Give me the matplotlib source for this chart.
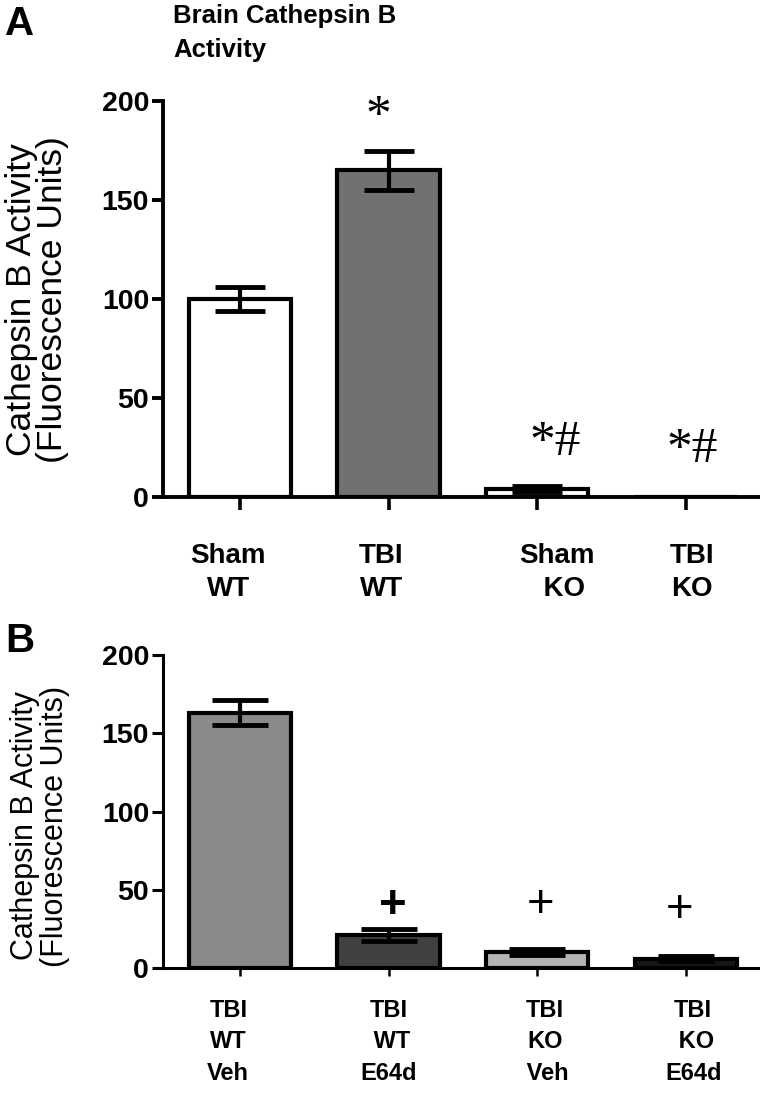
import matplotlib
matplotlib.use("Agg")
import matplotlib.pyplot as plt
import matplotlib.transforms as mtransforms

plt.rcParams["font.family"] = ["Liberation Sans", "DejaVu Sans"]

# panel A: brain cathepsin B activity
groups_a = ["Sham\nWT", "TBI\nWT", "Sham\n  KO", "TBI\nKO"]
values_a = [100, 165, 4, 0]
errors_a = [6, 10, 1.5, 0]
colors_a = ["white", "#717171", "white", "white"]
marks_a = ["", "*", "*#", "*#"]
mark_y_a = [0, 186, 21, 17.5]

# panel B: E64d treatment
groups_b = ["TBI\nWT\nVeh", "TBI\n WT\nE64d", "TBI\nKO\n Veh", "TBI\n KO\nE64d"]
values_b = [163, 21, 10, 6]
errors_b = [8, 4, 2, 1.5]
colors_b = ["#8a8a8a", "#404040", "#b4b4b4", "#161616"]
marks_b = ["", "+", "+", "+"]
mark_y_b = [0, 32, 32.5, 29.5]

yticks = [0, 50, 100, 150, 200]

W, H = 760, 1094
fig = plt.figure(figsize=(W / 100, H / 100), dpi=100)


def px_axes(left, top, right, bottom):
    return fig.add_axes([left / W, 1 - bottom / H, (right - left) / W, (bottom - top) / H])


def style_axis(ax, lw):
    for side in ["top", "right"]:
        ax.spines[side].set_visible(False)
    for side in ["left", "bottom"]:
        ax.spines[side].set_linewidth(lw)
    ax.set_ylim(0, 200)
    ax.set_xlim(-0.52, 3.5)
    ax.set_yticks(yticks)
    ax.set_yticklabels([str(t) for t in yticks], fontsize=20.5, fontweight="bold")
    ax.tick_params(axis="y", length=8, width=lw, pad=2)
    ax.set_xticks(range(4))
    ax.set_xticklabels([])


def draw_panel(ax, values, errors, colors, marks, mark_y, mark_dx, cap, mark_font):
    x = list(range(len(values)))
    ax.bar(x, values, width=0.69, color=colors, edgecolor="black", linewidth=3, zorder=2)
    ax.errorbar(x, values, yerr=errors, fmt="none", ecolor="black",
                elinewidth=3, capsize=cap, capthick=3.5, zorder=3)
    for xi, m, my, dx in zip(x, marks, mark_y, mark_dx):
        if m:
            ax.text(xi + dx, my, m, ha="center", va="baseline", **mark_font)


# ---- panel A ----
ax_a = px_axes(163, 101, 760, 497)
style_axis(ax_a, 2.8)
ax_a.tick_params(axis="x", length=9, width=2.6)
draw_panel(ax_a, values_a, errors_a, colors_a, marks_a, mark_y_a,
           [0, -0.07, 0.12, 0.04], 18,
           dict(fontsize=37, family=["Liberation Serif", "DejaVu Serif"]))

trans_a = mtransforms.blended_transform_factory(ax_a.transData, ax_a.transAxes)
label_dx_a = [-0.08, -0.05, 0.13, 0.04]
for i, (g, dx) in enumerate(zip(groups_a, label_dx_a)):
    ax_a.text(i + dx, -0.115, g, transform=trans_a, ha="center", va="top",
              fontsize=20, fontweight="bold", linespacing=1.35)

fig.text(37 / W, 1 - 300 / H, "Cathepsin B Activity\n(Fluorescence Units)",
         rotation=90, ha="center", va="center", fontsize=25.5, linespacing=0.95)
fig.text(173 / W, 1 - 4 / H, "Brain Cathepsin B\nActivity", ha="left", va="top",
         fontsize=18.5, fontweight="bold", linespacing=1.5)
fig.text(5 / W, 1 - 5 / H, "A", ha="left", va="top", fontsize=29, fontweight="bold")

# ---- panel B ----
ax_b = px_axes(163, 655, 760, 968)
style_axis(ax_b, 2.2)
ax_b.tick_params(axis="x", length=6, width=1.8)
draw_panel(ax_b, values_b, errors_b, colors_b, marks_b, mark_y_b,
           [0, 0.03, 0.02, -0.04], 20, dict(fontsize=34))
# the first "+" is printed heavier in the original
ax_b.texts[0].set_fontweight("bold")

trans_b = mtransforms.blended_transform_factory(ax_b.transData, ax_b.transAxes)
label_dx_b = [-0.08, 0.0, 0.05, 0.05]
for i, (g, dx) in enumerate(zip(groups_b, label_dx_b)):
    ax_b.text(i + dx, -0.1, g, transform=trans_b, ha="center", va="top",
              fontsize=17, fontweight="bold", linespacing=1.45)

fig.text(40 / W, 1 - 826 / H, "Cathepsin B Activity\n(Fluorescence Units)",
         rotation=90, ha="center", va="center", fontsize=22, linespacing=1.0)
fig.text(5 / W, 1 - 622 / H, "B", ha="left", va="top", fontsize=29, fontweight="bold")

fig.savefig("out.png", dpi=100)
